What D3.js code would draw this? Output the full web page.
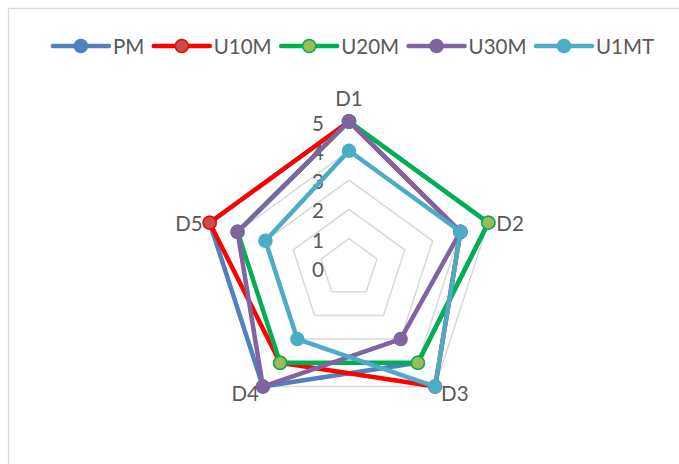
<!DOCTYPE html>
<html><head><meta charset="utf-8">
<script src="https://cdn.jsdelivr.net/npm/d3@7"></script>
<style>html,body{margin:0;padding:0;background:#fff;} svg{display:block}</style>
</head><body>
<svg id="c" width="679" height="464"></svg>
<script>
const axes = ["D1","D2","D3","D4","D5"];
const seriesNames = ["PM","U10M","U20M","U30M","U1MT"];
const PM   = [5,5,4,5,5];
const U10M = [5,4,5,4,5];
const U20M = [5,5,4,4,4];
const U30M = [5,4,3,5,4];
const U1MT = [4,4,5,3,3];
const tickValues = [0,1,2,3,4,5];
const seriesValues = [PM,U10M,U20M,U30M,U1MT];
const lineColors  = ["#4F81BD","#FF0000","#00B050","#8064A2","#4BACC6"];
const markerFills = ["#4F81BD","#C0504D","#9BBB59","#8064A2","#4BACC6"];

const svg = d3.select("#c");
const font = "Lato, 'Liberation Sans', sans-serif";
const fontSize = 20.5;
const textColor = "#595959";

svg.append("rect").attr("x",8.5).attr("y",8.5).attr("width",720).attr("height",520)
  .attr("fill","none").attr("stroke","#d9d9d9").attr("stroke-width",1.3);

const cx = 349, cy = 268, R = 146.5;
const r = d3.scaleLinear().domain([0,5]).range([0,R]);
const ang = d3.scaleLinear().domain([0,axes.length]).range([0,2*Math.PI]);
const g = svg.append("g").attr("transform",`translate(${cx},${cy})`);

const radial = d3.lineRadial()
  .angle((d,i)=>ang(i)).radius(d=>r(d)).curve(d3.curveLinearClosed);

// grid
g.selectAll("path.grid").data(tickValues.filter(v=>v>0)).join("path")
  .attr("class","grid")
  .attr("d", v => radial(axes.map(()=>v)))
  .attr("fill","none").attr("stroke","#d9d9d9").attr("stroke-width",1.5);

// tick labels
g.selectAll("text.tick").data(tickValues).join("text")
  .attr("class","tick")
  .attr("x",-25).attr("y", v => -r(v)+1)
  .attr("text-anchor","end").attr("dominant-baseline","central")
  .attr("font-family",font).attr("font-size",fontSize).attr("fill",textColor)
  .text(v=>v);

// series
seriesValues.forEach((vals,si)=>{
  const sg = g.append("g");
  sg.append("path").attr("d", radial(vals))
    .attr("fill","none").attr("stroke",lineColors[si]).attr("stroke-width",4.5)
    .attr("stroke-linejoin","round");
  sg.selectAll("circle").data(vals).join("circle")
    .attr("cx",(d,i)=> r(d)*Math.sin(ang(i)))
    .attr("cy",(d,i)=> -r(d)*Math.cos(ang(i)))
    .attr("r",6.5)
    .attr("fill",markerFills[si]).attr("stroke",lineColors[si]).attr("stroke-width",1.5);
});

// axis labels
g.selectAll("text.axl").data(axes).join("text")
  .attr("class","axl")
  .each(function(d,i){
    const a = ang(i), s = Math.sin(a), c = Math.cos(a);
    const px = r(5)*s, py = -r(5)*c;
    const anchor = s > 0.1 ? "start" : (s < -0.1 ? "end" : "middle");
    const dx = s > 0.1 ? (c>0? 8 : 6) : (s < -0.1 ? (c>0? -7 : -4) : 0);
    const dy = c > 0.9 ? -24 : (c < 0 ? 6 : 0);
    d3.select(this).attr("x",px+dx).attr("y",py+dy).attr("text-anchor",anchor);
  })
  .attr("dominant-baseline","central")
  .attr("font-family",font).attr("font-size",fontSize).attr("fill",textColor)
  .text(d=>d);

// legend
const lg = svg.append("g");
let x = 0;
const items = [];
seriesNames.forEach((name,si)=>{
  const it = lg.append("g").attr("transform",`translate(${x},0)`);
  it.append("line").attr("x1",0).attr("x2",56).attr("y1",0).attr("y2",0)
    .attr("stroke",lineColors[si]).attr("stroke-width",4.5).attr("stroke-linecap","round");
  it.append("circle").attr("cx",28).attr("cy",0).attr("r",6.5)
    .attr("fill",markerFills[si]).attr("stroke",lineColors[si]).attr("stroke-width",1.5);
  const t = it.append("text").attr("x",60).attr("y",0).attr("dominant-baseline","central")
    .attr("font-family",font).attr("font-size",fontSize).attr("fill",textColor).text(name);
  x += 60 + t.node().getComputedTextLength() + 9.5;
});
const total = x - 9.5;
lg.attr("transform",`translate(${353.5 - total/2},46)`);
</script>
</body></html>
